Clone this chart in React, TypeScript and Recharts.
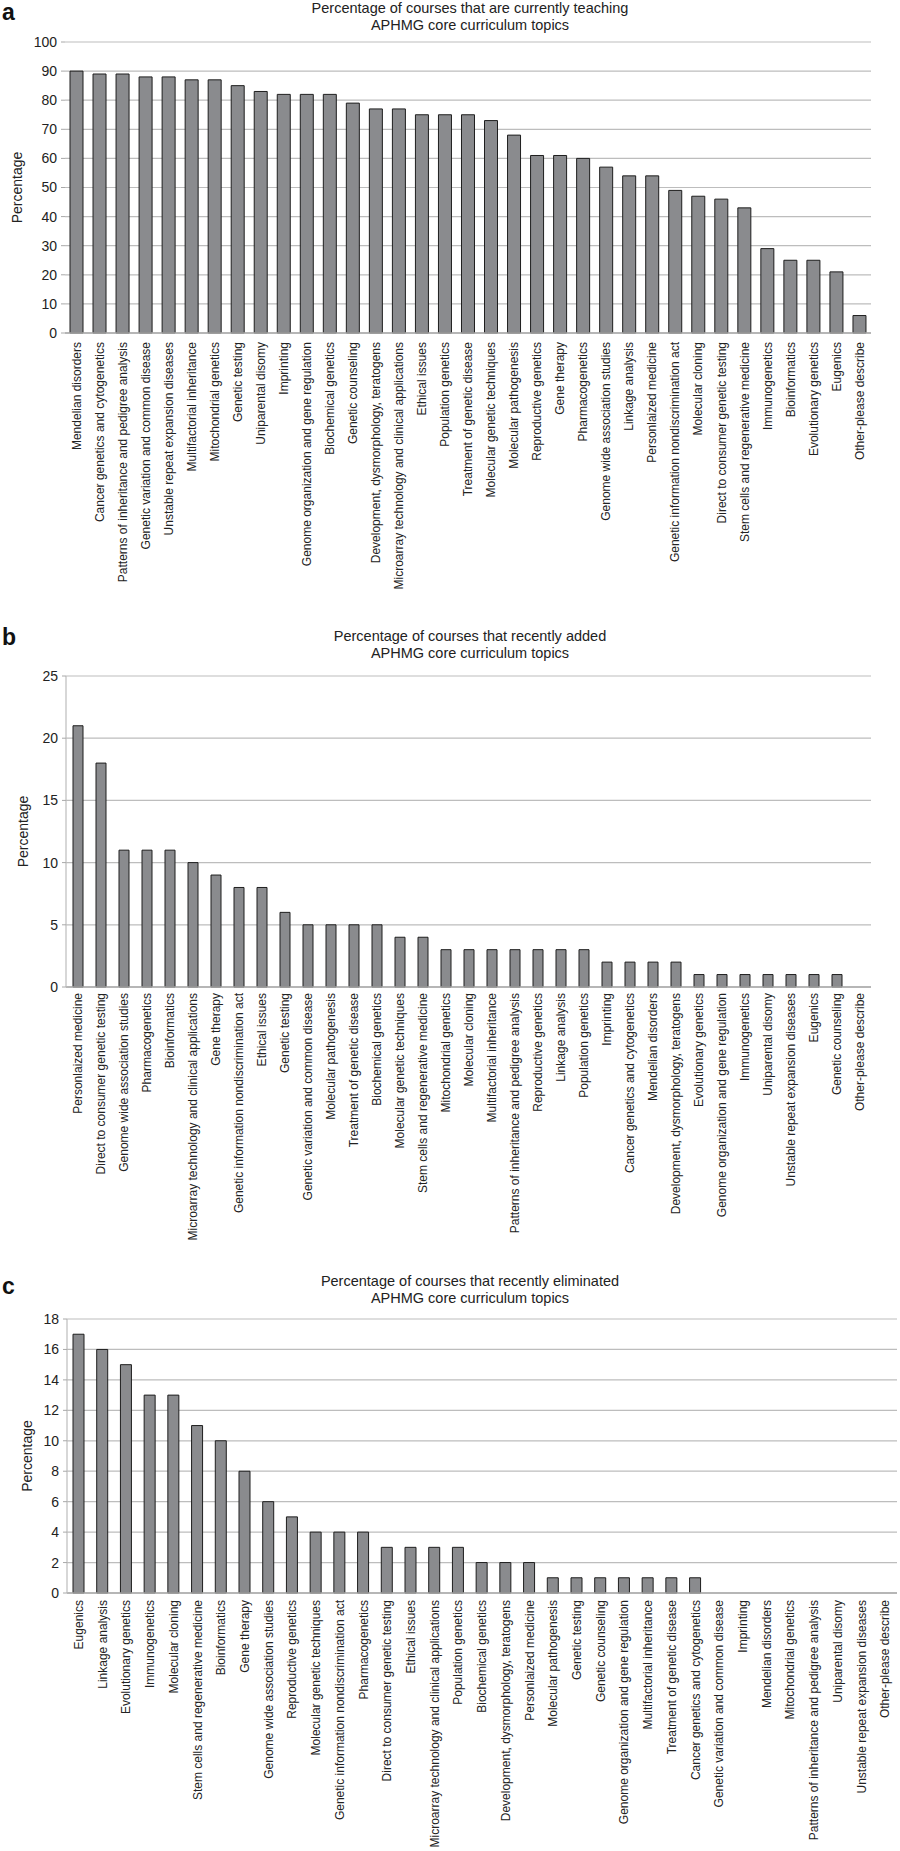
import { BarChart, Bar, XAxis, YAxis, CartesianGrid } from "recharts";

const FONT = "'Liberation Sans', Arial, sans-serif";

const teachingTopics = [
  "Mendelian disorders",
  "Cancer genetics and cytogenetics",
  "Patterns of inheritance and pedigree analysis",
  "Genetic variation and common disease",
  "Unstable repeat expansion diseases",
  "Multifactorial inheritance",
  "Mitochondrial genetics",
  "Genetic testing",
  "Uniparental disomy",
  "Imprinting",
  "Genome organization and gene regulation",
  "Biochemical genetics",
  "Genetic counseling",
  "Development, dysmorphology, teratogens",
  "Microarray technology and clinical applications",
  "Ethical issues",
  "Population genetics",
  "Treatment of genetic disease",
  "Molecular genetic techniques",
  "Molecular pathogenesis",
  "Reproductive genetics",
  "Gene therapy",
  "Pharmacogenetics",
  "Genome wide association studies",
  "Linkage analysis",
  "Personlaized medicine",
  "Genetic information nondiscrimination act",
  "Molecular cloning",
  "Direct to consumer genetic testing",
  "Stem cells and regenerative medicine",
  "Immunogenetics",
  "Bioinformatics",
  "Evolutionary genetics",
  "Eugenics",
  "Other-please describe",
];
const teachingValues = [
  90, 89, 89, 88, 88, 87, 87, 85, 83, 82, 82, 82, 79, 77, 77, 75, 75, 75, 73, 68,
  61, 61, 60, 57, 54, 54, 49, 47, 46, 43, 29, 25, 25, 21, 6,
];

const addedTopics = [
  "Personlaized medicine",
  "Direct to consumer genetic testing",
  "Genome wide association studies",
  "Pharmacogenetics",
  "Bioinformatics",
  "Microarray technology and clinical applications",
  "Gene therapy",
  "Genetic information nondiscrimination act",
  "Ethical issues",
  "Genetic testing",
  "Genetic variation and common disease",
  "Molecular pathogenesis",
  "Treatment of genetic disease",
  "Biochemical genetics",
  "Molecular genetic techniques",
  "Stem cells and regenerative medicine",
  "Mitochondrial genetics",
  "Molecular cloning",
  "Multifactorial inheritance",
  "Patterns of inheritance and pedigree analysis",
  "Reproductive genetics",
  "Linkage analysis",
  "Population genetics",
  "Imprinting",
  "Cancer genetics and cytogenetics",
  "Mendelian disorders",
  "Development, dysmorphology, teratogens",
  "Evolutionary genetics",
  "Genome organization and gene regulation",
  "Immunogenetics",
  "Uniparental disomy",
  "Unstable repeat expansion diseases",
  "Eugenics",
  "Genetic counseling",
  "Other-please describe",
];
const addedValues = [
  21, 18, 11, 11, 11, 10, 9, 8, 8, 6, 5, 5, 5, 5, 4, 4, 3, 3, 3, 3, 3, 3, 3, 2,
  2, 2, 2, 1, 1, 1, 1, 1, 1, 1, 0,
];

const eliminatedTopics = [
  "Eugenics",
  "Linkage analysis",
  "Evolutionary genetics",
  "Immunogenetics",
  "Molecular cloning",
  "Stem cells and regenerative medicine",
  "Bioinformatics",
  "Gene therapy",
  "Genome wide association studies",
  "Reproductive genetics",
  "Molecular genetic techniques",
  "Genetic information nondiscrimination act",
  "Pharmacogenetics",
  "Direct to consumer genetic testing",
  "Ethical issues",
  "Microarray technology and clinical applications",
  "Population genetics",
  "Biochemical genetics",
  "Development, dysmorphology, teratogens",
  "Personlaized medicine",
  "Molecular pathogenesis",
  "Genetic testing",
  "Genetic counseling",
  "Genome organization and gene regulation",
  "Multifactorial inheritance",
  "Treatment of genetic disease",
  "Cancer genetics and cytogenetics",
  "Genetic variation and common disease",
  "Imprinting",
  "Mendelian disorders",
  "Mitochondrial genetics",
  "Patterns of inheritance and pedigree analysis",
  "Uniparental disomy",
  "Unstable repeat expansion diseases",
  "Other-please describe",
];
const eliminatedValues = [
  17, 16, 15, 13, 13, 11, 10, 8, 6, 5, 4, 4, 4, 3, 3, 3, 3, 2, 2, 2, 1, 1, 1, 1,
  1, 1, 1, 0, 0, 0, 0, 0, 0, 0, 0,
];

const ticksA = [0, 10, 20, 30, 40, 50, 60, 70, 80, 90, 100];
const ticksB = [0, 5, 10, 15, 20, 25];
const ticksC = [0, 2, 4, 6, 8, 10, 12, 14, 16, 18];

function zip(names: string[], values: number[]) {
  return names.map((name, i) => ({ name, value: values[i] }));
}

function makeTick(gap: number) {
  return (props: any) => {
    const { x, y, payload } = props;
    const ty = y + gap;
    return (
      <text
        x={x}
        y={ty}
        transform={`rotate(-90, ${x}, ${ty})`}
        textAnchor="end"
        dy="0.35em"
        fontSize={12}
        fontFamily={FONT}
        fill="#222"
      >
        {payload.value}
      </text>
    );
  };
}

function makeYLabel(cx: number) {
  return (props: any) => {
    const vb = props.viewBox;
    const cy = vb.y + vb.height / 2;
    return (
      <text
        x={cx}
        y={cy}
        transform={`rotate(-90, ${cx}, ${cy})`}
        textAnchor="middle"
        dy="0.35em"
        fontSize={14}
        fontFamily={FONT}
        fill="#222"
      >
        Percentage
      </text>
    );
  };
}

interface PanelProps {
  letter: string;
  title: string[];
  top: number;
  height: number;
  margin: { top: number; right: number; left: number; bottom: number };
  xHeight: number;
  yWidth: number;
  data: { name: string; value: number }[];
  ticks: number[];
  barSize: number;
  gap: number;
  labelX: number;
  letterTop: number;
  titleTop: number;
  showYLine: boolean;
}

function Panel(p: PanelProps) {
  return (
    <>
      <div
        style={{
          position: "absolute",
          left: 2,
          top: p.letterTop,
          fontFamily: FONT,
          fontWeight: "bold",
          fontSize: 23,
          lineHeight: "23px",
          color: "#111",
        }}
      >
        {p.letter}
      </div>
      <div
        style={{
          position: "absolute",
          left: 270,
          width: 400,
          top: p.titleTop,
          textAlign: "center",
          fontFamily: FONT,
          fontSize: 14.5,
          lineHeight: "17px",
          color: "#222",
        }}
      >
        {p.title.map((t) => (
          <div key={t}>{t}</div>
        ))}
      </div>
      <div style={{ position: "absolute", left: 0, top: p.top }}>
        <BarChart width={900} height={p.height} data={p.data} margin={p.margin}>
          <CartesianGrid vertical={false} stroke="#bdbdbd" strokeWidth={1.2} />
          <XAxis
            dataKey="name"
            interval={0}
            height={p.xHeight}
            tickSize={0}
            tickMargin={0}
            tickLine={false}
            axisLine={{ stroke: "#a8a8a8", strokeWidth: 1.5 }}
            tick={makeTick(p.gap)}
          />
          <YAxis
            width={p.yWidth}
            domain={[p.ticks[0], p.ticks[p.ticks.length - 1]]}
            ticks={p.ticks}
            interval={0}
            tickSize={4}
            tickMargin={4}
            tickLine={{ stroke: "#a8a8a8" }}
            axisLine={p.showYLine ? { stroke: "#bdbdbd", strokeWidth: 1.2 } : false}
            tick={{ fontSize: 14, fill: "#222", fontFamily: FONT }}
            label={makeYLabel(p.labelX)}
          />
          <Bar
            dataKey="value"
            fill="#8a8b8e"
            stroke="#1e1e1e"
            strokeWidth={1}
            barSize={p.barSize}
            isAnimationActive={false}
          />
        </BarChart>
      </div>
    </>
  );
}

export default function App() {
  return (
    <div
      style={{
        position: "absolute",
        left: 0,
        top: 0,
        width: 900,
        height: 1851,
        background: "#fff",
        overflow: "hidden",
      }}
    >
      <Panel
        letter="a"
        title={[
          "Percentage of courses that are currently teaching",
          "APHMG core curriculum topics",
        ]}
        letterTop={1}
        titleTop={0}
        top={0}
        height={610}
        margin={{ top: 42, right: 29, left: 0, bottom: 0 }}
        xHeight={277}
        yWidth={65}
        data={zip(teachingTopics, teachingValues)}
        ticks={ticksA}
        barSize={13}
        gap={9}
        labelX={17}
        showYLine={false}
      />
      <Panel
        letter="b"
        title={[
          "Percentage of courses that recently added",
          "APHMG core curriculum topics",
        ]}
        letterTop={626}
        titleTop={628}
        top={620}
        height={640}
        margin={{ top: 56, right: 29, left: 0, bottom: 0 }}
        xHeight={273}
        yWidth={66}
        data={zip(addedTopics, addedValues)}
        ticks={ticksB}
        barSize={10}
        gap={6}
        labelX={23}
        showYLine={true}
      />
      <Panel
        letter="c"
        title={[
          "Percentage of courses that recently eliminated",
          "APHMG core curriculum topics",
        ]}
        letterTop={1275}
        titleTop={1273}
        top={1270}
        height={581}
        margin={{ top: 49, right: 3, left: 0, bottom: 0 }}
        xHeight={258}
        yWidth={67}
        data={zip(eliminatedTopics, eliminatedValues)}
        ticks={ticksC}
        barSize={11}
        gap={7}
        labelX={27}
        showYLine={true}
      />
    </div>
  );
}
